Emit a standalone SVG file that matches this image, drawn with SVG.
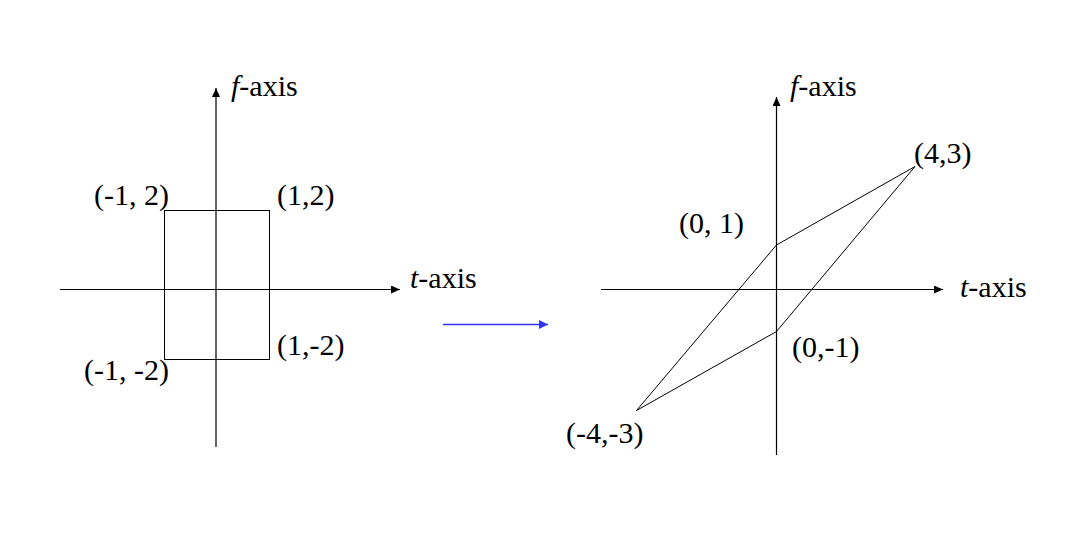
<svg xmlns="http://www.w3.org/2000/svg" width="1080" height="540" viewBox="0 0 1080 540">
<style>
.ax{stroke:#000;stroke-width:1.2;fill:none}
.sh{stroke:#000;stroke-width:1;fill:none}
.lb{font-family:"Liberation Serif","Times New Roman",serif;font-size:30px;fill:#000}
.it{font-style:italic}
</style>
<defs>
<marker id="ah" markerUnits="userSpaceOnUse" markerWidth="10" markerHeight="8" refX="9" refY="4" orient="auto">
<path d="M0,0 L9,4 L0,8 Z" fill="#000"/>
</marker>
<marker id="bh" markerUnits="userSpaceOnUse" markerWidth="10" markerHeight="10" refX="9" refY="4.5" orient="auto">
<path d="M0,0 L9,4.5 L0,9 Z" fill="#3333ff"/>
</marker>
</defs>
<rect width="1080" height="540" fill="#fff"/>
<g id="connectors">
<line class="ax" x1="216" y1="447" x2="216" y2="88" marker-end="url(#ah)"/>
<line class="ax" x1="60" y1="289.5" x2="400" y2="289.5" marker-end="url(#ah)"/>
<line class="ax" x1="776.5" y1="455" x2="776.5" y2="97" marker-end="url(#ah)"/>
<line class="ax" x1="601" y1="289.5" x2="943" y2="289.5" marker-end="url(#ah)"/>
<line x1="443" y1="324.5" x2="548" y2="324.5" stroke="#3333ff" stroke-width="1.3" marker-end="url(#bh)"/>
</g>
<g id="rect">
<rect class="sh" x="164.5" y="210.5" width="105" height="149"/>
</g>
<g id="parallelogram">
<polygon class="sh" points="776.5,245 915,166.5 776.5,331.5 636.5,410.5"/>
</g>
<g id="labels-left">
<text class="lb" x="231" y="96"><tspan class="it">f</tspan>-axis</text>
<text class="lb" x="410" y="288"><tspan class="it">t</tspan>-axis</text>
<text class="lb" x="94" y="205">(-1, 2)</text>
<text class="lb" x="277" y="205">(1,2)</text>
<text class="lb" x="277" y="355">(1,-2)</text>
<text class="lb" x="84" y="380">(-1, -2)</text>
</g>
<g id="labels-right">
<text class="lb" x="790" y="96"><tspan class="it">f</tspan>-axis</text>
<text class="lb" x="960" y="297"><tspan class="it">t</tspan>-axis</text>
<text class="lb" x="914" y="163">(4,3)</text>
<text class="lb" x="679" y="233">(0, 1)</text>
<text class="lb" x="792" y="357">(0,-1)</text>
<text class="lb" x="566" y="443">(-4,-3)</text>
</g>
</svg>
